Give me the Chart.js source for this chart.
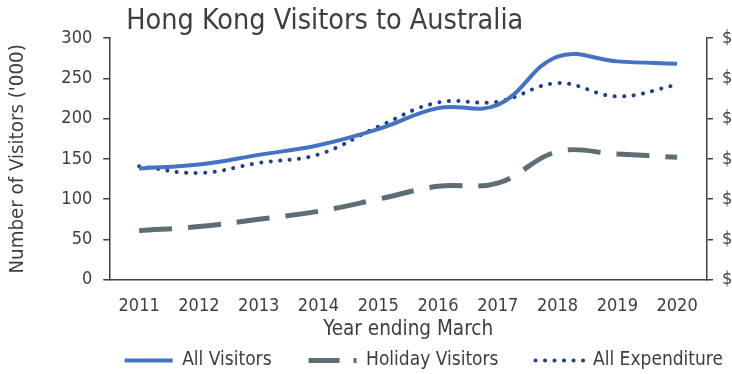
<!DOCTYPE html>
<html>
<head>
<meta charset="utf-8">
<script src="https://cdn.jsdelivr.net/npm/chart.js@4/dist/chart.umd.min.js"></script>
<style>
  html, body { margin: 0; padding: 0; background: #fff; overflow: hidden; }
  #wrap { width: 732px; height: 374px; }
</style>
</head>
<body>
<div id="wrap"><canvas id="visitorsChart" width="732" height="374"></canvas></div>
<script>
const years = ['2011', '2012', '2013', '2014', '2015', '2016', '2017', '2018', '2019', '2020'];
const allVisitors = [138, 143, 155, 167, 187, 213, 217, 277, 271, 268];
const holidayVisitors = [61, 66, 75, 85, 100, 116, 120, 159, 156, 152];
// expenditure ($m) on the right axis
const allExpenditure = [564, 530, 580, 622, 760, 880, 884, 976, 910, 968];
const leftTicks = [0, 50, 100, 150, 200, 250, 300];
const rightTicks = [0, 200, 400, 600, 800, 1000, 1200];

const fontFamily = '"DejaVu Sans Condensed", "DejaVu Sans", sans-serif';
const textColor = '#3a3f44';
const axisColor = '#404040';
const legendGap = 37;

// title sits left-aligned over the plot, not centred on the canvas
const titlePlugin = {
  id: 'leftTitle',
  afterDraw(chart) {
    const c = chart.ctx;
    c.save();
    c.font = '28.5px ' + fontFamily;
    c.fillStyle = textColor;
    c.textBaseline = 'alphabetic';
    c.fillText('Hong Kong Visitors to Australia', chart.chartArea.left + 17, 28.5);
    c.restore();
  }
};

// legend padding is used for item spacing, so grow the box upward to fit the row
const legendShift = {
  id: 'legendShift',
  afterLayout(chart) {
    const lg = chart.legend;
    if (!lg) return;
    lg.top -= legendGap - 9;
    lg.height = lg.bottom - lg.top;
  }
};

const ctx = document.getElementById('visitorsChart').getContext('2d');
new Chart(ctx, {
  type: 'line',
  data: {
    labels: years,
    datasets: [{
      label: 'All Visitors',
      data: allVisitors,
      yAxisID: 'y',
      borderColor: '#4472c4',
      backgroundColor: '#4472c4',
      borderWidth: 4,
      tension: 0.4,
      pointRadius: 0
    }, {
      label: 'Holiday Visitors',
      data: holidayVisitors,
      yAxisID: 'y',
      borderColor: '#5b6f75',
      backgroundColor: '#5b6f75',
      borderWidth: 5,
      borderDash: [33, 16],
      tension: 0.4,
      pointRadius: 0
    }, {
      label: 'All Expenditure',
      data: allExpenditure,
      yAxisID: 'y2',
      borderColor: '#203f8c',
      backgroundColor: '#203f8c',
      borderWidth: 4,
      borderDash: [0.1, 9.4],
      borderCapStyle: 'round',
      tension: 0.4,
      pointRadius: 0
    }]
  },
  options: {
    responsive: false,
    animation: false,
    layout: { padding: { top: 38, left: 6, right: -(legendGap - 9), bottom: 0 } },
    plugins: {
      title: { display: false },
      tooltip: { enabled: false },
      legend: {
        position: 'bottom',
        align: 'end',
        maxHeight: 32,
        labels: {
          color: textColor,
          font: { family: fontFamily, size: 19 },
          usePointStyle: true,
          pointStyle: 'line',
          pointStyleWidth: 48,
          boxHeight: 19,
          padding: legendGap,
          generateLabels: chart => {
            const items = Chart.defaults.plugins.legend.labels.generateLabels(chart);
            return items.map(item => {
              const ds = chart.data.datasets[item.datasetIndex];
              // the dashed sample is a bit tighter so a stub of the next dash shows
              item.lineDash = item.datasetIndex === 1 ? [31, 14] : (ds.borderDash || []);
              item.lineCap = ds.borderCapStyle || 'butt';
              item.lineWidth = ds.borderWidth;
              item.strokeStyle = ds.borderColor;
              item.pointStyle = 'line';
              return item;
            });
          }
        }
      }
    },
    scales: {
      x: {
        offset: true,
        grid: { display: false, drawTicks: false },
        border: { color: axisColor, width: 1.5 },
        ticks: { color: textColor, font: { family: fontFamily, size: 18 }, padding: 16, maxRotation: 0 },
        title: { display: true, text: 'Year ending March', color: textColor, font: { family: fontFamily, size: 20.5 }, padding: { top: -16, bottom: 0 } }
      },
      y: {
        min: 0, max: 300,
        afterBuildTicks: scale => { scale.ticks = leftTicks.map(v => ({ value: v })); },
        grid: { drawOnChartArea: false, tickLength: 6, color: axisColor, lineWidth: 1.5 },
        border: { color: axisColor, width: 1.5 },
        ticks: { color: textColor, font: { family: fontFamily, size: 18 }, padding: 11 },
        title: { display: true, text: "Number of Visitors ('000)", color: textColor, font: { family: fontFamily, size: 20.3 }, padding: { top: 0, bottom: 20 } }
      },
      y2: {
        position: 'right',
        min: 0, max: 1200,
        afterBuildTicks: scale => { scale.ticks = rightTicks.map(v => ({ value: v })); },
        afterFit: scale => { scale.width = 25 + legendGap - 9; },
        grid: { drawOnChartArea: false, tickLength: 6, color: axisColor, lineWidth: 1.5 },
        border: { color: axisColor, width: 1.5 },
        ticks: { color: textColor, font: { family: fontFamily, size: 18 }, padding: 9, callback: v => '$' + v + 'm' }
      }
    }
  },
  plugins: [titlePlugin, legendShift]
});
</script>
</body>
</html>
